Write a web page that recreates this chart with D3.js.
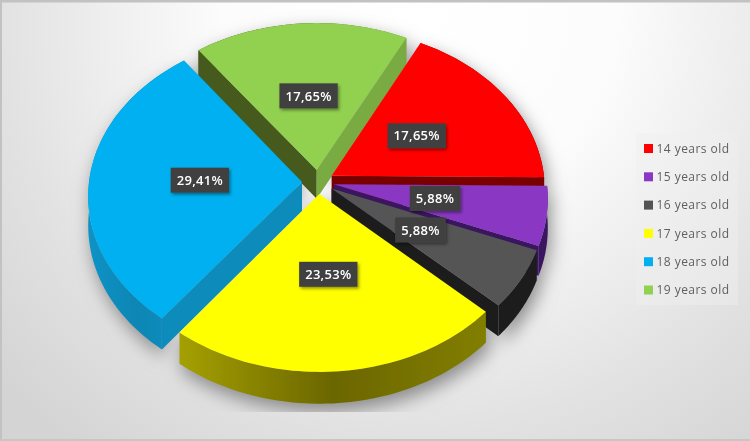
<!DOCTYPE html>
<html>
<head>
<meta charset="utf-8">
<script src="https://cdn.jsdelivr.net/npm/d3@7"></script>
<style>
  html, body { margin: 0; padding: 0; background: #e6e6e6; }
  svg { display: block; }
  text { font-family: "Open Sans", "Noto Sans", sans-serif; }
</style>
</head>
<body>
<svg id="chart" width="750" height="441"></svg>
<script>
const categories = ['14 years old', '15 years old', '16 years old', '17 years old', '18 years old', '19 years old'];
const shares = [17.65, 5.88, 5.88, 23.53, 29.41, 17.65];

const topColors = ['#ff0000', '#8a38c4', '#545454', '#ffff00', '#00b0f0', '#92d050'];
const startWall = ['#7a0000', '#3a1660', '#1e1e1e', '#6b6600', '#0a8cbc', '#445a1e'];
const endWall = ['#7a0000', '#3a1660', '#1e1e1e', '#6b6600', '#0a8cbc', '#7aab42'];
const arcLeft = ['#7a0000', '#3a1660', '#1e1e1e', '#a5a000', '#0f93c6', '#445a1e'];
const arcMid = ['#7a0000', '#3a1660', '#1e1e1e', '#6b6600', '#0a86b4', '#445a1e'];
const arcRight = ['#7a0000', '#3a1660', '#1e1e1e', '#827e00', '#0c8fc0', '#7aab42'];

const svg = d3.select('#chart');
const width = +svg.attr('width');
const height = +svg.attr('height');

// fake 3d: flat disc seen in perspective, each slice pulled out along its middle
const cx = 318, cy = 182, rx = 213, ry = 161;
const persp = 0.0826, explode = 0.075, depth = 29;

const project = (angle, r, mid, z) => {
  const u = explode * Math.sin(mid) + r * Math.sin(angle);
  const v = -(explode * Math.cos(mid) + r * Math.cos(angle));
  const s = 1 / (1 - persp * v);
  return [cx + rx * u * s, cy + ry * v * s + z * depth * s];
};

const start = 27 * Math.PI / 180;
const slices = d3.pie().sort(null).startAngle(start).endAngle(start + 2 * Math.PI)(shares);
slices.forEach((d, i) => { d.i = i; d.mid = (d.startAngle + d.endAngle) / 2; });

const line = d3.line();
const arcPoints = (d, z) => d3.range(0, 61).map(k =>
  project(d.startAngle + (d.endAngle - d.startAngle) * k / 60, 1, d.mid, z));
const apex = (d, z) => project(0, 0, d.mid, z);

const topPath = d => line([apex(d, 0), ...arcPoints(d, 0)]) + 'Z';
const wallPath = (d, angle) => line([apex(d, 0), project(angle, 1, d.mid, 0), project(angle, 1, d.mid, 1), apex(d, 1)]) + 'Z';
const arcWallPath = d => line([...arcPoints(d, 0), ...arcPoints(d, 1).reverse()]) + 'Z';

const defs = svg.append('defs');

const bg = defs.append('radialGradient').attr('id', 'bg')
    .attr('gradientUnits', 'userSpaceOnUse')
    .attr('cx', 420).attr('cy', 10).attr('r', 560);
bg.append('stop').attr('offset', '0%').attr('stop-color', '#ffffff');
bg.append('stop').attr('offset', '35%').attr('stop-color', '#fcfcfc');
bg.append('stop').attr('offset', '75%').attr('stop-color', '#e2e2e2');
bg.append('stop').attr('offset', '100%').attr('stop-color', '#d4d4d4');

defs.append('filter').attr('id', 'soft')
    .attr('x', '-20%').attr('y', '-20%').attr('width', '140%').attr('height', '140%')
  .append('feGaussianBlur').attr('stdDeviation', 9);

const labelShadow = defs.append('filter').attr('id', 'labelShadow')
    .attr('x', '-20%').attr('y', '-30%').attr('width', '140%').attr('height', '170%');
labelShadow.append('feDropShadow')
    .attr('dx', 1.5).attr('dy', 2).attr('stdDeviation', 1.5)
    .attr('flood-color', '#000').attr('flood-opacity', 0.4);

defs.append('filter').attr('id', 'blurText')
  .append('feGaussianBlur').attr('stdDeviation', 0.4);

defs.append('filter').attr('id', 'blurPie')
    .attr('filterUnits', 'userSpaceOnUse')
    .attr('x', 0).attr('y', 0).attr('width', width).attr('height', height)
  .append('feGaussianBlur').attr('stdDeviation', 0.4);

defs.append('clipPath').attr('id', 'shadowClip')
  .append('rect').attr('width', width).attr('height', 412);

// arc wall shading runs left to right across each slice
slices.forEach(d => {
  const pts = arcPoints(d, 1);
  const g = defs.append('linearGradient').attr('id', 'arc' + d.i)
      .attr('gradientUnits', 'userSpaceOnUse')
      .attr('x1', d3.min(pts, p => p[0])).attr('x2', d3.max(pts, p => p[0]))
      .attr('y1', 0).attr('y2', 0);
  g.append('stop').attr('offset', '0%').attr('stop-color', arcLeft[d.i]);
  g.append('stop').attr('offset', '50%').attr('stop-color', arcMid[d.i]);
  g.append('stop').attr('offset', '100%').attr('stop-color', arcRight[d.i]);
});

// background + frame
svg.append('rect').attr('width', width).attr('height', height).attr('fill', 'url(#bg)');
svg.append('rect').attr('width', width).attr('height', 2.5).attr('fill', '#c2c2c2');
svg.append('rect').attr('width', 2).attr('height', height).attr('fill', '#c2c2c2');
svg.append('rect').attr('y', height - 2).attr('width', width).attr('height', 2).attr('fill', '#c6c6c6');

// soft shadow under the pie
const shadow = svg.append('g').attr('clip-path', 'url(#shadowClip)')
  .append('g').attr('filter', 'url(#soft)')
    .attr('transform', 'translate(3,8)');
slices.forEach(d => {
  shadow.append('path').attr('d', arcWallPath(d)).attr('fill', '#8a8a8a');
  shadow.append('path').attr('d', topPath(d)).attr('fill', '#8a8a8a');
});

// painter order: far slices first, radial walls only where they face the viewer
const drawOrder = [5, 0, 4, 1, 2, 3];
const pie = svg.append('g').attr('filter', 'url(#blurPie)');
drawOrder.forEach(i => {
  const d = slices[i];
  const g = pie.append('g');
  g.append('path').attr('d', arcWallPath(d)).attr('fill', `url(#arc${i})`);
  if (Math.sin(d.startAngle) < 0) g.append('path').attr('d', wallPath(d, d.startAngle)).attr('fill', startWall[i]);
  if (Math.sin(d.endAngle) > 0) g.append('path').attr('d', wallPath(d, d.endAngle)).attr('fill', endWall[i]);
  g.append('path').attr('d', topPath(d)).attr('fill', topColors[i]);
});

// data labels, box sized from the text
const fmt = d3.formatLocale({ decimal: ',', thousands: '.', grouping: [3], currency: ['', ''] }).format('.2f');
const labels = svg.append('g').selectAll('g').data(slices).join('g')
    .attr('transform', d => {
      const p = project(d.mid, 0.48, d.mid, 0);
      return `translate(${p[0]},${p[1] - 1})`;
    });
const labelBox = labels.append('rect')
    .attr('fill', '#404040')
    .attr('filter', 'url(#labelShadow)');
labels.append('text')
    .attr('text-anchor', 'middle').attr('dy', '0.36em')
    .attr('font-size', 13).attr('font-weight', 600).attr('fill', '#ffffff')
    .attr('letter-spacing', 0.3)
    .attr('filter', 'url(#blurText)')
    .text(d => fmt(d.value) + '%');
labelBox.each(function() {
  const w = this.parentNode.querySelector('text').getComputedTextLength() + 12;
  d3.select(this).attr('x', -w / 2).attr('y', -12.5).attr('width', w).attr('height', 25);
});

// legend
const legendY = d3.scalePoint().domain(categories).range([148.5, 290]);
svg.append('rect')
    .attr('x', 636).attr('y', 133).attr('width', 102).attr('height', 172)
    .attr('fill', '#f0f0f0').attr('fill-opacity', 0.45);
const legend = svg.append('g').selectAll('g').data(categories).join('g')
    .attr('transform', d => `translate(644,${legendY(d)})`);
legend.append('rect')
    .attr('y', -4.5).attr('width', 9).attr('height', 9)
    .attr('fill', (d, i) => topColors[i]);
legend.append('text')
    .attr('x', 12.5).attr('dy', '0.35em')
    .attr('font-size', 12).attr('fill', '#5f5f5f')
    .attr('letter-spacing', 0.45)
    .attr('filter', 'url(#blurText)')
    .text(d => d);
</script>
</body>
</html>
